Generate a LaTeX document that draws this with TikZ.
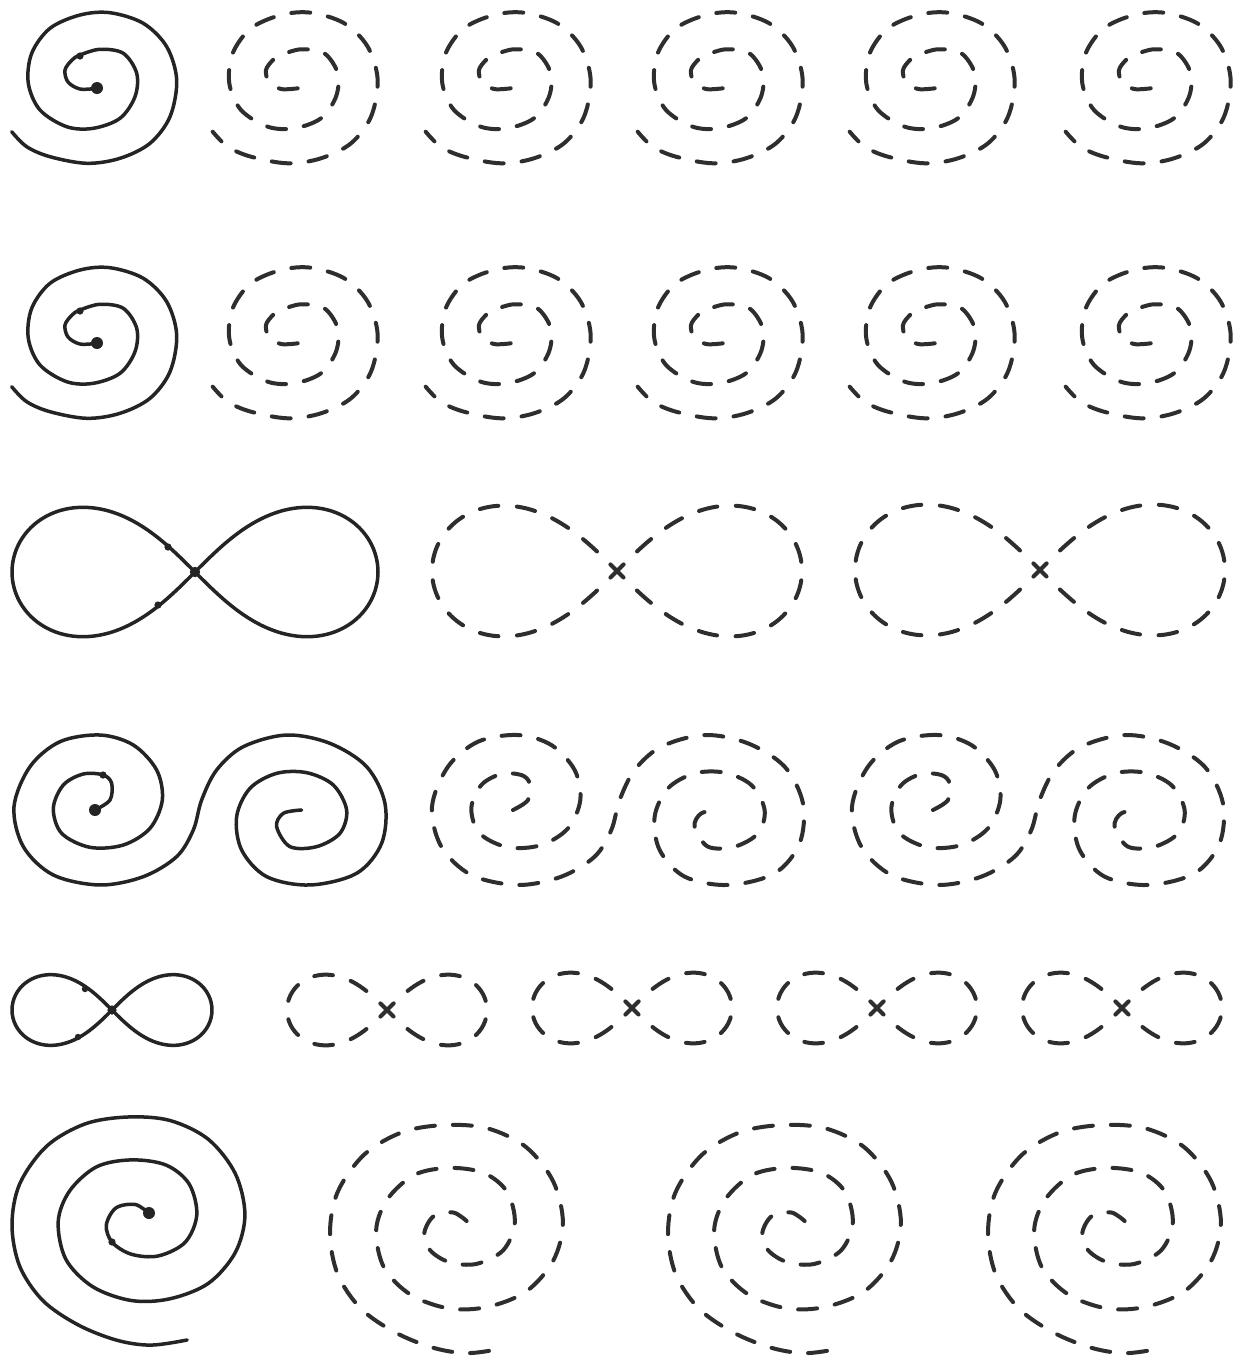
\documentclass[tikz,border=0pt]{standalone}
\definecolor{ink}{HTML}{242424}
\definecolor{dink}{HTML}{2E2E2E}
\tikzset{
  sline/.style={draw=ink, line width=1.75pt, line join=round, line cap=round},
  dline/.style={draw=dink, line width=2pt, line cap=round, dash pattern=on 9.5pt off 9pt},
}
% spiral of rows 1 and 2
\newcommand\drawSpiralA[3]{\draw[#1,shift={(#2,#3)}] plot[smooth,tension=0.55] coordinates{
 (96.7,88.3) (80,89) (68,82) (65,70) (72,60) (80,55) (100,49.3) (123.3,53.3) (136.7,73.3)
 (135,96.7) (120,118.3) (93.3,128.3) (66.7,126.7) (40,110) (28.3,83.3) (31.7,53.3) (50,28.3)
 (80,15) (110,12.7) (143.3,23.3) (166.7,46.7) (176.7,80) (170,116.7) (150,143.3) (120,158.3)
 (86.7,163.3) (50,156.7) (26.7,146.7) (11.7,131.7)};}
% double spiral of row 4
\newcommand\drawSS[2]{\draw[#1,shift={(#2,720)},xscale=0.3333,yscale=0.3333] plot[smooth,tension=0.55] coordinates{
 (285,270) (330,240) (335,190) (310,165) (250,162) (190,195) (160,265) (185,340) (270,382)
 (370,375) (450,325) (487,240) (470,150) (400,75) (300,45) (180,65) (90,140) (42,260) (70,380)
 (160,465) (300,495) (430,470) (530,410) (580,330) (605,240) (650,150) (730,80) (860,45)
 (990,70) (1100,140) (1155,250) (1145,370) (1070,460) (930,495) (800,470) (725,390) (710,290)
 (750,205) (830,160) (920,158) (1000,195) (1040,270) (1020,340) (950,380) (870,380) (830,320)
 (850,280) (905,270)};}
% big spiral of row 6
\newcommand\drawBig[3]{\draw[#1,shift={(#2,#3)},xscale=0.385,yscale=0.343] plot[smooth,tension=0.55] coordinates{
 (395,315) (360,290) (310,300) (285,350) (300,400) (350,435) (420,440) (490,400) (520,320)
 (500,230) (440,175) (350,160) (260,180) (190,250) (160,340) (180,450) (250,530) (350,570)
 (450,565) (550,520) (620,430) (645,320) (620,200) (550,100) (450,45) (340,35) (230,55)
 (130,120) (60,230) (40,350) (60,470) (120,570) (210,640) (310,685) (400,700) (495,685)};}
% lemniscates
\newcommand\lemSolid[3]{\draw[sline] plot[domain=90:450,samples=161,smooth]
 ({#1+#3*cos(\x)/(1+sin(\x)^2)},{#2+#3*sin(\x)*cos(\x)/(1+sin(\x)^2)});}
\newcommand\lemDash[3]{%
 \pgfmathsetmacro\lemLen{0.5*5.2441*#3}%
 \pgfmathsetmacro\lemNum{2*round(\lemLen/37)}%
 \pgfmathsetmacro\lemPer{\lemLen/\lemNum}%
 \pgfmathsetmacro\lemOn{0.5*\lemPer}%
 \pgfmathsetmacro\lemPh{0.25*\lemPer}%
 \draw[dline, dash pattern=on \lemOn pt off \lemOn pt, dash phase=\lemPh pt]
  plot[domain=90:450,samples=161,smooth]
  ({#1+#3*cos(\x)/(1+sin(\x)^2)},{#2+#3*sin(\x)*cos(\x)/(1+sin(\x)^2)});}
\begin{document}
\begin{tikzpicture}[x=0.5pt,y=-0.5pt]
\fill[white] (0,0) rectangle (1244,1362);
\useasboundingbox (0,0) rectangle (1244,1362);
% row 1
\drawSpiralA{sline}{0}{0}
\foreach \dx in {201,414,626,838,1054} {\drawSpiralA{dline}{\dx}{0}}
\fill[ink] (97,88) circle[radius=3pt];
\fill[ink] (80,56) circle[radius=1.8pt];
% row 2
\drawSpiralA{sline}{0}{255}
\foreach \dx in {201,414,626,838,1054} {\drawSpiralA{dline}{\dx}{255}}
\fill[ink] (97,343) circle[radius=3pt];
\fill[ink] (80,311) circle[radius=1.8pt];
% row 3
\lemSolid{195}{572}{183}
\lemDash{617}{571}{185}
\lemDash{1040}{570}{185}
\fill[ink] (195,572) circle[radius=2.6pt];
\fill[ink] (168,547) circle[radius=1.8pt];
\fill[ink] (158,605) circle[radius=1.8pt];
% row 4
\drawSS{sline}{0}
\drawSS{dline}{418}
\drawSS{dline}{838}
\fill[ink] (95,810) circle[radius=3pt];
\fill[ink] (103,775) circle[radius=1.8pt];
% row 5
\lemSolid{112}{1010}{100}
\lemDash{387}{1010}{100}
\lemDash{632}{1008}{100}
\lemDash{877}{1008}{100}
\lemDash{1122}{1008}{100}
\fill[ink] (112,1010) circle[radius=2.3pt];
\fill[ink] (85,989) circle[radius=1.6pt];
\fill[ink] (78,1037) circle[radius=1.6pt];
% row 6
\drawBig{sline}{-3.4}{1105}
\drawBig{dline}{314.6}{1113}
\drawBig{dline}{652.6}{1113}
\drawBig{dline}{972.6}{1113}
\fill[ink] (149,1213) circle[radius=3pt];
\fill[ink] (112,1242) circle[radius=1.8pt];
\end{tikzpicture}
\end{document}
